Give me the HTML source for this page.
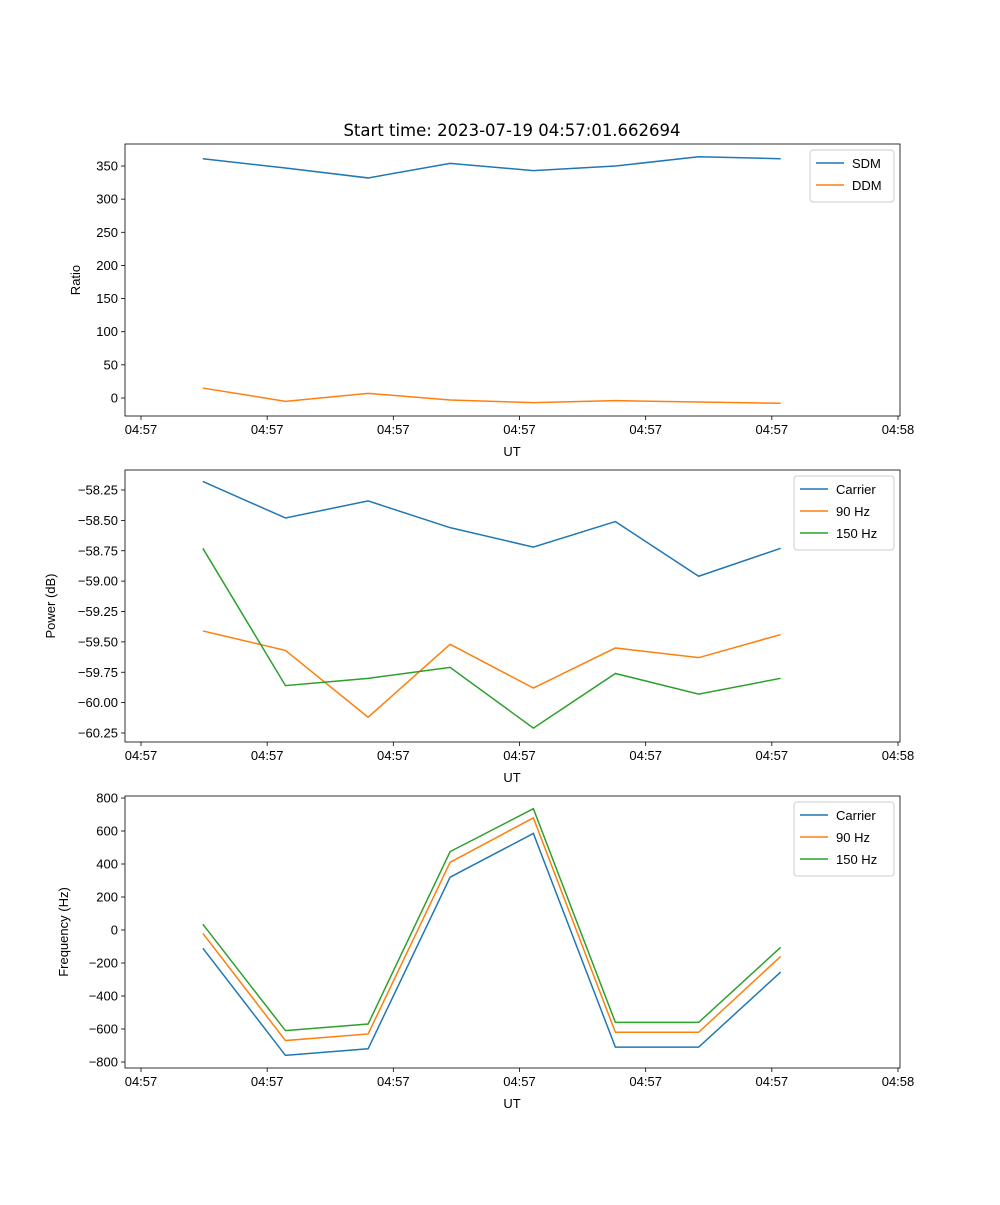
<!DOCTYPE html>
<html><head><meta charset="utf-8"><style>
body{margin:0;background:#fff}
svg{font-family:"Liberation Sans","DejaVu Sans",sans-serif}
</style></head><body>
<svg id="fig" width="1000" height="1200" xmlns="http://www.w3.org/2000/svg">
<text x="512" y="136" font-size="16.5" font-family="DejaVu Sans, sans-serif" text-anchor="middle">Start time: 2023-07-19 04:57:01.662694</text>
</svg>
<script>
const xSeconds = [4.9, 11.45, 18.0, 24.5, 31.1, 37.6, 44.2, 50.7];
const xTickVals = [0, 10, 20, 30, 40, 50, 60];
const xTickLabels = ["04:57","04:57","04:57","04:57","04:57","04:57","04:58"];
const sdm = [361, 347, 332, 354, 343, 350, 364, 361];
const ddm = [15, -5, 7, -3, -7, -4, -6, -8];
const ratioTicks = [0, 50, 100, 150, 200, 250, 300, 350];
const pCarrier = [-58.18, -58.48, -58.34, -58.56, -58.72, -58.51, -58.96, -58.73];
const p90 = [-59.41, -59.57, -60.12, -59.52, -59.88, -59.55, -59.63, -59.44];
const p150 = [-58.73, -59.86, -59.80, -59.71, -60.21, -59.76, -59.93, -59.80];
const powerTicks = [-60.25, -60.00, -59.75, -59.50, -59.25, -59.00, -58.75, -58.50, -58.25];
const fCarrier = [-110, -760, -720, 320, 585, -710, -710, -255];
const f90 = [-20, -670, -630, 410, 680, -620, -620, -160];
const f150 = [35, -610, -570, 475, 735, -560, -560, -105];
const freqTicks = [-800, -600, -400, -200, 0, 200, 400, 600, 800];

const NS = "http://www.w3.org/2000/svg";
const svg = document.getElementById('fig');
function el(tag, attrs, parent){const e=document.createElementNS(NS,tag);for(const k in attrs)e.setAttribute(k,attrs[k]);(parent||svg).appendChild(e);return e;}
const L=125,R=900;
function xs(v){return 141 + v*(898-141)/60;}

function panel(cfg){
  const g = el('g',{});
  
  
  const ys = v => cfg.y0px + (v-cfg.y0)*(cfg.y1px-cfg.y0px)/(cfg.y1-cfg.y0);
  const axes = el('rect',{x:L,y:cfg.top,width:R-L,height:cfg.bot-cfg.top,fill:'none',stroke:'#000','stroke-width':0.8},g);
  
  
  xTickVals.forEach((v,i)=>{
    const x=xs(v);
    el('line',{x1:x,x2:x,y1:cfg.bot,y2:cfg.bot+4,stroke:'#000','stroke-width':0.8},g);
    const t=el('text',{x:x,y:cfg.bot+18,'font-size':13,'text-anchor':'middle'},g);
    t.textContent=xTickLabels[i];
    
    
  });
  const xl=el('text',{x:512,y:cfg.bot+40,'font-size':13,'text-anchor':'middle'},g);
  xl.textContent='UT';
  
  
  cfg.ticks.forEach(v=>{
    const y=ys(v);
    el('line',{x1:L-4,x2:L,y1:y,y2:y,stroke:'#000','stroke-width':0.8},g);
    const t=el('text',{x:L-7,y:y+4.5,'font-size':13,'text-anchor':'end'},g);
    t.textContent=cfg.fmt(v).replace('-','\u2212');
    
    
  });
  const cy=(cfg.top+cfg.bot)/2;
  const yl=el('text',{x:cfg.ylx,y:cy,'font-size':13,'text-anchor':'middle',transform:`rotate(-90 ${cfg.ylx} ${cy})`},g);
  yl.textContent=cfg.ylabel;
  
  
  cfg.series.forEach(s=>{
    const p=el('polyline',{points:s.data.map((v,i)=>xs(xSeconds[i])+','+ys(v)).join(' '),fill:'none',stroke:s.color,'stroke-width':1.5},g);
    
    
  });
  const lg=el('g',{},g);
  
  
  const lh=8+cfg.series.length*22;
  el('rect',{x:cfg.lx,y:cfg.top+6,width:R-6-cfg.lx,height:lh,fill:'#fff',stroke:'#ccc',rx:3},lg);
  cfg.series.forEach((s,i)=>{
    const y=cfg.top+19+i*22;
    el('line',{x1:cfg.lx+6,x2:cfg.lx+34,y1:y,y2:y,stroke:s.color,'stroke-width':1.5},lg);
    const t=el('text',{x:cfg.lx+42,y:y+5,'font-size':13},lg);
    t.textContent=s.label;
    
    
  });
}
const C1='#1f77b4',C2='#ff7f0e',C3='#2ca02c';
panel({name:'ratio-panel',top:144,bot:416,y0:0,y1:350,y0px:398,y1px:166,ticks:ratioTicks,fmt:v=>String(v),ylabel:'Ratio',ylx:80,lx:810,
  series:[{key:'sdm',label:'SDM',data:sdm,color:C1},{key:'ddm',label:'DDM',data:ddm,color:C2}]});
panel({name:'power-panel',top:470,bot:742,y0:-58.25,y1:-60.25,y0px:490,y1px:733,ticks:powerTicks,fmt:v=>v.toFixed(2),ylabel:'Power (dB)',ylx:55,lx:794,
  series:[{key:'carrier',label:'Carrier',data:pCarrier,color:C1},{key:'90hz',label:'90 Hz',data:p90,color:C2},{key:'150hz',label:'150 Hz',data:p150,color:C3}]});
panel({name:'frequency-panel',top:796,bot:1068,y0:800,y1:-800,y0px:798,y1px:1062,ticks:freqTicks,fmt:v=>String(v),ylabel:'Frequency (Hz)',ylx:68,lx:794,
  series:[{key:'carrier',label:'Carrier',data:fCarrier,color:C1},{key:'90hz',label:'90 Hz',data:f90,color:C2},{key:'150hz',label:'150 Hz',data:f150,color:C3}]});
</script>
</body></html>
